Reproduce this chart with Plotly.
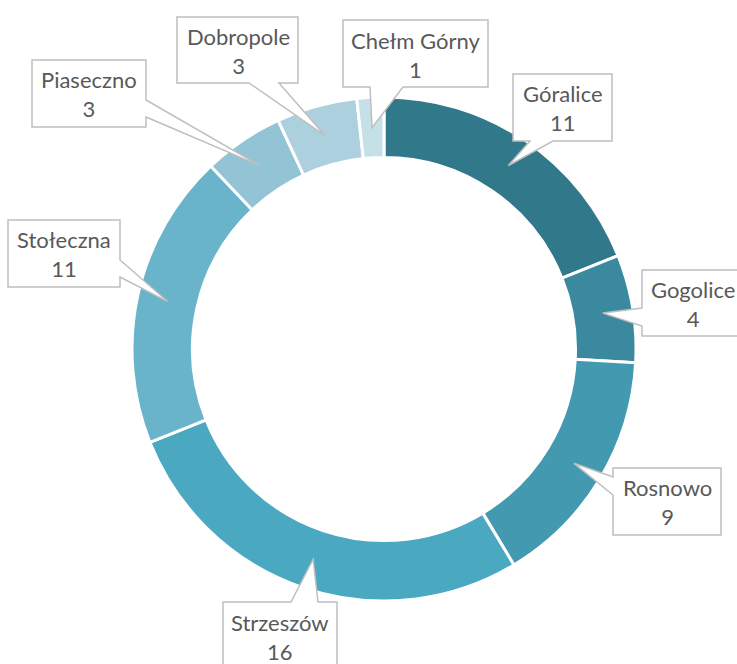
import math
import plotly.graph_objects as go

# Donut data (clockwise from 12 o'clock)
labels = ["Góralice", "Gogolice", "Rosnowo", "Strzeszów", "Stołeczna",
          "Piaseczno", "Dobropole", "Chełm Górny"]
values = [11, 4, 9, 16, 11, 3, 3, 1]
colors = ["#31788a", "#3a899e", "#4299b0", "#4aa8c1", "#69b4ca",
          "#93c4d5", "#acd0dd", "#c6e0e8"]

W, H = 737, 664
CX, CY, R_OUT = 384, 349, 252
HOLE = 0.76
R_TIP = R_OUT * (1 + HOLE) / 2  # callout pointers end mid-ring

# Callout boxes: (x0, y0, x1, y1) in pixels, side carrying the pointer,
# and the pointer base span along that side
callouts = {
    "Góralice":    ((513, 74, 612, 141), "bottom", (530, 553)),
    "Gogolice":    ((642, 270, 760, 336), "left", (308, 326)),
    "Rosnowo":     ((613, 468, 721, 535), "left", (477, 495)),
    "Strzeszów":   ((223, 602, 337, 690), "top", (291, 318)),
    "Stołeczna":   ((8, 220, 120, 287), "right", (260, 277)),
    "Piaseczno":   ((32, 60, 146, 127), "right", (100, 117)),
    "Dobropole":   ((177, 17, 298, 83), "bottom", (249, 279)),
    "Chełm Górny": ((343, 20, 488, 87), "bottom", (370, 403)),
}
text_centers = {
    "Góralice": (562.5, 108), "Gogolice": (693, 304),
    "Rosnowo": (667, 502), "Strzeszów": (280, 637),
    "Stołeczna": (64, 254), "Piaseczno": (89, 94),
    "Dobropole": (238, 51), "Chełm Górny": (416, 55),
}

fig = go.Figure()
fig.add_trace(go.Pie(
    labels=labels, values=values, hole=HOLE, sort=False,
    direction="clockwise", rotation=0, textinfo="none",
    marker=dict(colors=colors, line=dict(color="white", width=3)),
    domain=dict(x=[(CX - R_OUT) / W, (CX + R_OUT) / W],
                y=[(H - CY - R_OUT) / H, (H - CY + R_OUT) / H]),
    showlegend=False, hoverinfo="label+value",
))
# invisible trace to provide a pixel-space cartesian frame for the callouts
fig.add_trace(go.Scatter(x=[0, W], y=[0, H], mode="markers",
                         marker=dict(opacity=0), hoverinfo="skip",
                         showlegend=False))

total = sum(values)
cum = 0
shapes, annotations = [], []
for lab, val in zip(labels, values):
    theta = math.radians((cum + val / 2) / total * 360)
    cum += val
    tx = CX + R_TIP * math.sin(theta)
    ty = CY - R_TIP * math.cos(theta)
    (x0, y0, x1, y1), side, (a, b) = callouts[lab]
    if side == "bottom":
        pts = [(x0, y0), (x1, y0), (x1, y1), (b, y1), (tx, ty), (a, y1), (x0, y1)]
    elif side == "top":
        pts = [(x0, y0), (a, y0), (tx, ty), (b, y0), (x1, y0), (x1, y1), (x0, y1)]
    elif side == "left":
        pts = [(x0, y0), (x1, y0), (x1, y1), (x0, y1), (x0, b), (tx, ty), (x0, a)]
    else:
        pts = [(x0, y0), (x1, y0), (x1, a), (tx, ty), (x1, b), (x1, y1), (x0, y1)]
    path = "M " + " L ".join(f"{px:.1f},{py:.1f}" for px, py in pts) + " Z"
    shapes.append(dict(type="path", path=path, xref="x", yref="y",
                       fillcolor="white", line=dict(color="#bfbfbf", width=1.5),
                       layer="above"))
    cx, cy = text_centers[lab]
    annotations.append(dict(x=cx, y=cy, xref="x", yref="y", showarrow=False,
                            text=f"{lab}<br>{val}", align="center",
                            font=dict(family="Lato", size=22, color="#595959")))

fig.update_layout(
    width=W, height=H, margin=dict(l=0, r=0, t=0, b=0),
    paper_bgcolor="white", plot_bgcolor="rgba(0,0,0,0)",
    xaxis=dict(range=[0, W], visible=False, fixedrange=True),
    yaxis=dict(range=[H, 0], visible=False, fixedrange=True),
    shapes=shapes, annotations=annotations,
)
fig.write_html("out.html")
